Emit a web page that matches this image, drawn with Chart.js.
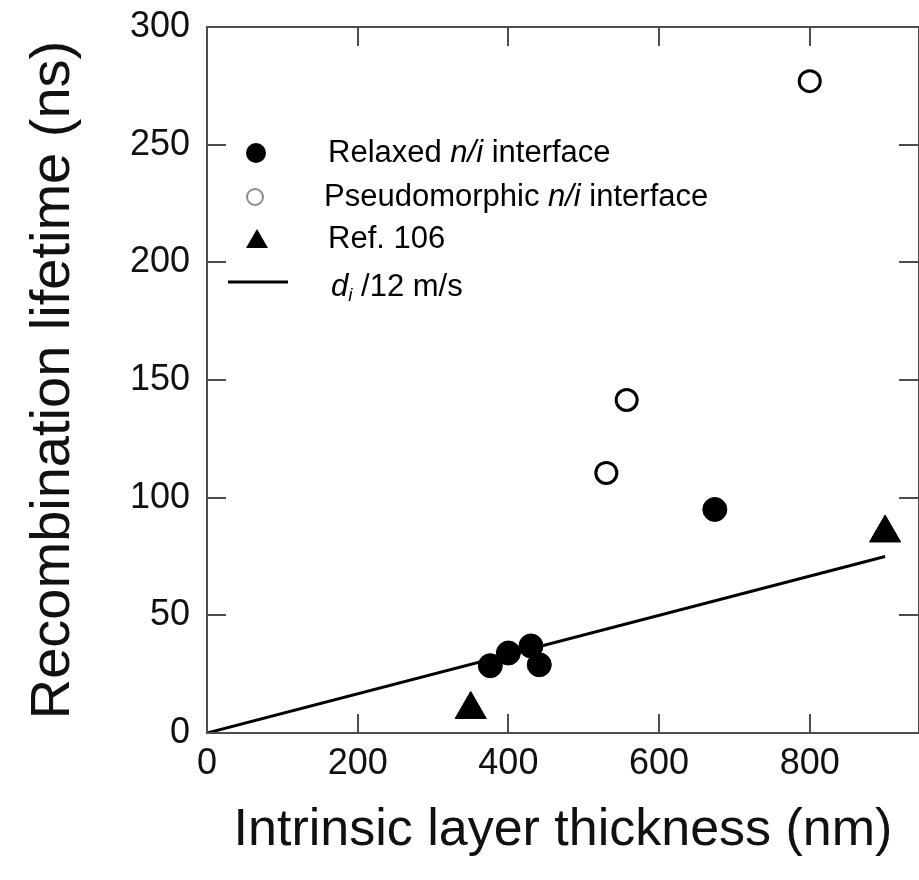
<!DOCTYPE html>
<html>
<head>
<meta charset="utf-8">
<script src="https://cdn.jsdelivr.net/npm/chart.js@4.4.0/dist/chart.umd.min.js"></script>
<style>
  html, body { margin: 0; padding: 0; background: #fff; overflow: hidden; }
</style>
</head>
<body>
<canvas id="chart" width="919" height="880"></canvas>
<script>
// data
const relaxedX = [376, 400, 430, 441, 674];
const relaxedY = [28.6, 34, 37, 29, 95];
const pseudoX = [530, 557, 800];
const pseudoY = [110.5, 141.5, 277];
const refX = [350, 900];
const refY = [10, 85];
const fitX = [0, 900];
const fitY = [0, 75];
const xTicks = [0, 200, 400, 600, 800];
const yTicks = [0, 50, 100, 150, 200, 250, 300];

const FONT = '"Liberation Sans", Arial, Helvetica, sans-serif';
const AXIS = '#4d4d4d';

function pts(xs, ys) {
  return xs.map((x, i) => ({ x: x, y: ys[i] }));
}

// box round the plot, with ticks pointing inward on all four sides
const framePlugin = {
  id: 'frame',
  afterDraw(chart) {
    const { ctx, chartArea: a } = chart;
    const xs = chart.scales.x, ys = chart.scales.y;
    const len = 19;
    ctx.save();
    ctx.strokeStyle = AXIS;
    ctx.lineWidth = 2;
    ctx.strokeRect(a.left, a.top, a.right - a.left, a.bottom - a.top);
    ctx.beginPath();
    xTicks.slice(1).forEach(v => {
      const px = Math.round(xs.getPixelForValue(v));
      ctx.moveTo(px, a.bottom); ctx.lineTo(px, a.bottom - len);
      ctx.moveTo(px, a.top); ctx.lineTo(px, a.top + len);
    });
    yTicks.slice(1, -1).forEach(v => {
      const py = Math.round(ys.getPixelForValue(v));
      ctx.moveTo(a.left, py); ctx.lineTo(a.left + len, py);
      ctx.moveTo(a.right - 1, py); ctx.lineTo(a.right - 1 - len, py);
    });
    ctx.stroke();
    ctx.restore();
  }
};

// legend inside the plot, drawn by hand because of italics and subscript
const legendPlugin = {
  id: 'legendBox',
  afterDraw(chart) {
    const ctx = chart.ctx;
    const size = 31;
    ctx.save();
    ctx.textBaseline = 'middle';
    ctx.fillStyle = '#000';

    function write(x, y, parts) {
      parts.forEach(p => {
        const s = p.sub ? Math.round(size * 0.62) : size;
        ctx.font = (p.it ? 'italic ' : '') + s + 'px ' + FONT;
        ctx.fillText(p.t, x, p.sub ? y + 9 : y);
        x += ctx.measureText(p.t).width;
      });
    }

    // filled circle
    ctx.beginPath(); ctx.arc(256, 153, 10, 0, Math.PI * 2); ctx.fill();
    write(328, 153, [{ t: 'Relaxed ' }, { t: 'n/i', it: true }, { t: ' interface' }]);

    // open circle
    ctx.beginPath(); ctx.arc(255, 197, 8, 0, Math.PI * 2);
    ctx.strokeStyle = '#8c8c8c'; ctx.lineWidth = 2; ctx.stroke();
    write(324, 197, [{ t: 'Pseudomorphic ' }, { t: 'n/i', it: true }, { t: ' interface' }]);

    // triangle
    ctx.beginPath();
    ctx.moveTo(257, 229); ctx.lineTo(268, 248); ctx.lineTo(246, 248);
    ctx.closePath(); ctx.fill();
    write(328, 239, [{ t: 'Ref. 106' }]);

    // line
    ctx.beginPath(); ctx.moveTo(228, 282); ctx.lineTo(288, 282);
    ctx.strokeStyle = '#000'; ctx.lineWidth = 3; ctx.stroke();
    write(331, 287, [{ t: 'd', it: true }, { t: 'i', it: true, sub: true }, { t: ' /12 m/s' }]);

    ctx.restore();
  }
};

new Chart(document.getElementById('chart'), {
  type: 'scatter',
  data: {
    datasets: [
      {
        label: 'd_i/12 m/s',
        type: 'line',
        data: pts(fitX, fitY),
        borderColor: '#000',
        borderWidth: 3,
        pointRadius: 0,
        fill: false,
        order: 10
      },
      {
        label: 'Relaxed n/i interface',
        data: pts(relaxedX, relaxedY),
        pointStyle: 'circle',
        pointRadius: 12,
        backgroundColor: '#000',
        borderColor: '#000',
        borderWidth: 1
      },
      {
        label: 'Pseudomorphic n/i interface',
        data: pts(pseudoX, pseudoY),
        pointStyle: 'circle',
        pointRadius: 10.5,
        backgroundColor: '#fff',
        borderColor: '#000',
        borderWidth: 3
      },
      {
        label: 'Ref. 106',
        data: pts(refX, refY),
        pointStyle: 'triangle',
        pointRadius: 18,
        backgroundColor: '#000',
        borderColor: '#000',
        borderWidth: 1
      }
    ]
  },
  options: {
    responsive: false,
    animation: false,
    layout: { autoPadding: false, padding: { top: 27, right: 0, left: 0, bottom: 0 } },
    plugins: {
      legend: { display: false },
      tooltip: { enabled: false }
    },
    scales: {
      x: {
        type: 'linear',
        min: 0,
        max: 945,
        afterBuildTicks: s => { s.ticks = xTicks.map(v => ({ value: v })); },
        afterFit: s => { s.height = 147; s.paddingLeft = 0; s.paddingRight = 0; },
        grid: { display: false, drawTicks: false },
        border: { display: false },
        ticks: {
          padding: 9,
          color: '#111',
          font: { family: FONT, size: 36 },
          maxRotation: 0
        },
        title: {
          display: true,
          text: 'Intrinsic layer thickness (nm)',
          color: '#111',
          font: { family: FONT, size: 52 },
          padding: { top: 0, bottom: 18 }
        }
      },
      y: {
        type: 'linear',
        min: 0,
        max: 300,
        afterBuildTicks: s => { s.ticks = yTicks.map(v => ({ value: v })); },
        afterFit: s => { s.width = 207; s.paddingTop = 0; s.paddingBottom = 0; },
        grid: { display: false, drawTicks: false },
        border: { display: false },
        ticks: {
          padding: 17,
          color: '#111',
          font: { family: FONT, size: 36 }
        },
        title: {
          display: true,
          text: 'Recombination lifetime (ns)',
          color: '#111',
          font: { family: FONT, size: 56 },
          padding: { top: 20, bottom: 0 }
        }
      }
    }
  },
  plugins: [framePlugin, legendPlugin]
});
</script>
</body>
</html>
